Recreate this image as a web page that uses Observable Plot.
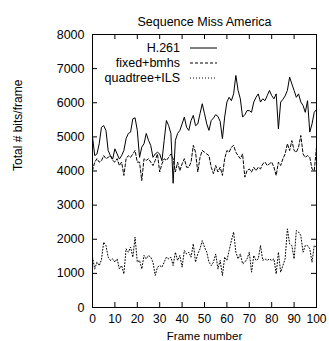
<!DOCTYPE html>
<html><head><meta charset="utf-8">
<script src="https://cdn.jsdelivr.net/npm/d3@7"></script>
<script src="https://cdn.jsdelivr.net/npm/@observablehq/plot@0.6"></script>
<style>body{margin:0;background:#fff} svg{display:block}</style>
</head><body><div id="chart"></div>
<script>
const title = "Sequence Miss America";
const xLabel = "Frame number";
const yLabel = "Total # bits/frame";
const seriesNames = ["H.261", "fixed+bmhs", "quadtree+ILS"];
const seriesDash = ["none", "3,2", "1,2"];

const h261 = [5000,4450,4500,4800,5280,5330,5190,4600,4450,4350,
  4650,4500,4350,4450,4600,4950,5100,5140,5530,5560,
  5190,4400,4700,4800,5100,4900,4750,4400,4500,4550,
  4500,4300,4900,5480,5330,5100,3640,4900,5100,5190,
  5380,5580,5280,5190,5480,5630,5330,5380,5680,5970,
  5680,5380,5190,5480,5550,5650,5600,5450,4950,5580,
  6020,6160,6060,6260,6800,6360,6115,5580,5650,5770,
  5770,5720,6020,6160,6260,6020,6115,6060,6210,6360,
  6210,6115,6260,5235,6020,6100,6200,6360,6750,6550,
  6360,6160,6260,6020,5920,5720,6060,5140,5380,5720,
  5800];
const fixedBmhs = [4010,4260,4360,4260,4300,4450,4360,4400,4450,4310,
  4260,4360,4160,4260,3870,4360,4450,4400,4500,4600,
  4260,4260,3720,4360,4310,4360,4260,4160,4310,4500,
  3970,4210,4360,4310,4400,4500,4360,3970,4260,4010,
  4210,4360,4110,4110,4260,4750,4550,3970,4400,4600,
  4550,4500,4450,4110,3920,4160,3970,4110,3870,4360,
  4600,4550,4700,4750,4550,4450,4360,4500,3820,4010,
  4060,3970,4110,4010,4110,4060,4210,4260,4160,4210,
  4260,4110,3870,4260,4160,4360,4500,4800,4600,4890,
  4600,4550,4700,5040,4500,4400,4450,4400,4060,4010,
  4700];
const quadtreeIls = [1475,1130,1330,1230,1400,1915,1815,1475,1380,1425,
  1330,1425,1130,1230,985,1720,1620,1770,1475,2060,
  1330,1380,1130,1525,1425,1525,1475,1330,940,1180,
  1230,1180,1330,1475,1425,1475,1230,1620,1380,1525,
  1180,1670,1570,1620,1475,1865,1330,1570,1720,1960,
  1770,1620,1330,1230,1330,1570,1130,1380,940,1475,
  1380,1670,1960,2210,1620,1425,1570,1280,1330,1425,
  1620,1035,1525,1380,1425,1815,1380,1425,1380,1425,
  1380,1425,985,1620,1035,1230,1425,2305,1865,1815,
  1425,2255,2210,2110,1620,1815,1815,1720,1330,1815,
  1770];
const xTicks = [0,10,20,30,40,50,60,70,80,90,100];
const yTicks = [0,1000,2000,3000,4000,5000,6000,7000,8000];

const frames = d3.range(h261.length);
const seriesValues = [h261, fixedBmhs, quadtreeIls];
const tables = seriesValues.map((vals, i) => vals.map((v, j) => ({frame: frames[j], value: v, series: seriesNames[i]})));

const W = 329, H = 341;
const mL = 92, mR = 13, mT = 34, mB = 34;
const fw = W - mL - mR, fh = H - mT - mB;
const tick = 5;

const legend = (index, scales, values, dims) => {
  const g = d3.create("svg:g");
  seriesNames.forEach((name, i) => {
    const y = dims.marginTop + 14 + i * 15;
    g.append("text").attr("x", dims.marginLeft + 88).attr("y", y)
      .attr("text-anchor", "end").attr("dy", "0.35em").attr("fill", "black").text(name);
    g.append("line").attr("x1", dims.marginLeft + 98).attr("x2", dims.marginLeft + 125)
      .attr("y1", y).attr("y2", y).attr("stroke", "black").attr("stroke-width", 1)
      .attr("stroke-dasharray", seriesDash[i]);
  });
  return g.node();
};

const chart = Plot.plot({
  width: W, height: H,
  marginLeft: mL, marginRight: mR, marginTop: mT, marginBottom: mB,
  style: {fontFamily: "'Liberation Sans', Arial, sans-serif", fontSize: "12.5px", background: "white", color: "black"},
  x: {domain: [0, 100]},
  y: {domain: [0, 8000]},
  marks: [
    Plot.axisX(xTicks, {tickSize: 0, tickPadding: 7, label: null, fill: "black", fontSize: 12, tickFormat: d => String(d)}),
    Plot.axisY(yTicks, {tickSize: 0, tickPadding: 8, label: null, fill: "black", tickFormat: d => String(d)}),
    Plot.tickX(xTicks, {x: d => d, insetTop: fh - tick, stroke: "black"}),
    Plot.tickX(xTicks, {x: d => d, insetBottom: fh - tick, stroke: "black"}),
    Plot.tickY(yTicks, {y: d => d, insetRight: fw - tick, stroke: "black"}),
    Plot.tickY(yTicks, {y: d => d, insetLeft: fw - tick, stroke: "black"}),
    ...tables.map((t, i) => Plot.line(t, {x: "frame", y: "value", stroke: "black", strokeWidth: 1, strokeDasharray: seriesDash[i] === "none" ? undefined : seriesDash[i]})),
    Plot.frame({stroke: "black"}),
    legend,
    Plot.text([title], {frameAnchor: "top", dy: -17, fill: "black", fontSize: 12.5}),
    Plot.text([xLabel], {frameAnchor: "bottom", dy: 32, fill: "black", fontSize: 11.5}),
    Plot.text([yLabel], {frameAnchor: "left", dx: -74, rotate: -90, fill: "black", fontSize: 12})
  ]
});
document.getElementById("chart").appendChild(chart);
</script>
</body></html>
